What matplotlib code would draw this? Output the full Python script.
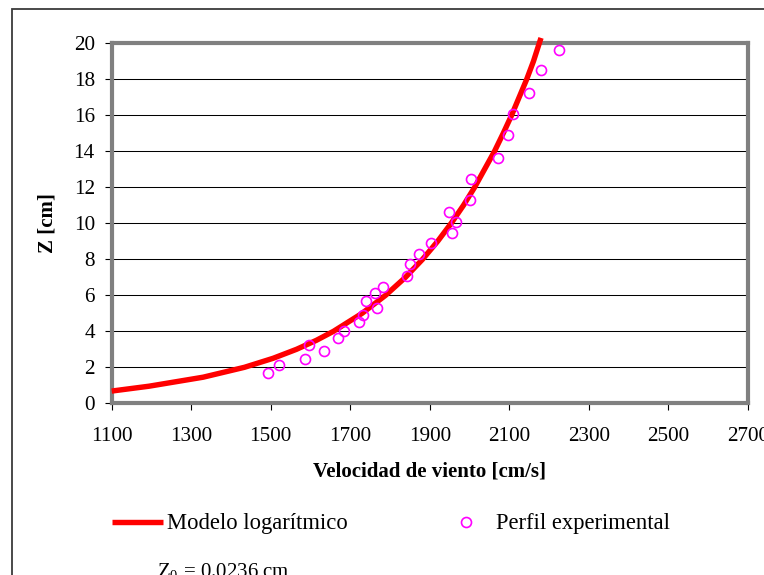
import matplotlib
matplotlib.use("Agg")
import matplotlib.pyplot as plt
from matplotlib.patches import Rectangle

# ---- data ----
exp_u = [1494, 1521, 1586, 1596, 1635, 1670, 1684, 1723, 1733, 1741, 1767, 1762,
         1782, 1842, 1851, 1873, 1903, 1956, 1966, 1948, 2001, 2005, 2071, 2097,
         2110, 2150, 2181, 2225]
exp_z = [1.70, 2.11, 2.48, 3.26, 2.89, 3.64, 4.03, 4.50, 4.92, 5.68, 5.29, 6.11,
         6.46, 7.06, 7.72, 8.29, 8.89, 9.48, 10.06, 10.63, 11.29, 12.46, 13.64, 14.90,
         16.07, 17.22, 18.50, 19.64]

model_u = [1100, 1194, 1330, 1434, 1506, 1565, 1615, 1658, 1730, 1789, 1839, 1882,
           1920, 1954, 1985, 2013, 2038, 2063, 2085, 2106, 2125, 2144, 2161, 2180]
model_z = [0.68, 0.95, 1.45, 2.0, 2.5, 3.0, 3.5, 4.0, 5.0, 6.0, 7.0, 8.0,
           9.0, 10.0, 11.0, 12.0, 13.0, 14.0, 15.0, 16.0, 17.0, 18.0, 19.0, 20.3]

x_ticks = [1100, 1300, 1500, 1700, 1900, 2100, 2300, 2500, 2700]
y_ticks = [0, 2, 4, 6, 8, 10, 12, 14, 16, 18, 20]

label_model = "Modelo logarítmico"
label_exp = "Perfil experimental"
xlabel = "Velocidad de viento [cm/s]"
ylabel = "Z [cm]"
z0_text = r"Z$_0$ = 0.0236 cm"

W, H = 764, 575
plt.rcParams['font.family'] = ['Liberation Serif', 'DejaVu Serif']
plt.rcParams['mathtext.fontset'] = 'custom'
plt.rcParams['mathtext.rm'] = 'Liberation Serif'

fig = plt.figure(figsize=(W / 100, H / 100), dpi=100)
fig.patch.set_facecolor('white')

def fx(px):
    return px / W

def fy(py):
    return 1 - py / H

# chart-area border (extends beyond the right/bottom of the image)
fig.patches.append(Rectangle((fx(12), fy(900)), 2.0, fy(9) - fy(900),
                             transform=fig.transFigure, fill=False,
                             edgecolor='#3a3a3a', linewidth=1.3))

left, right, top, bottom = 111.7, 747.7, 43.3, 403.3
ax = fig.add_axes([fx(left), fy(bottom), fx(right) - fx(left), fy(top) - fy(bottom)])

ax.plot(model_u, model_z, color='#ff0000', linewidth=3.9, solid_capstyle='butt',
        label=label_model, zorder=3, clip_on=False)
ax.plot(exp_u, exp_z, linestyle='none', marker='o', markersize=7.2,
        markerfacecolor='none', markeredgecolor='#ff00ff', markeredgewidth=1.2,
        label=label_exp, zorder=4, clip_on=False)

ax.set_xlim(1100, 2700)
ax.set_ylim(0, 20)
ax.set_xticks(x_ticks)
ax.set_yticks(y_ticks)
ax.set_xticklabels([str(v) for v in x_ticks])
ax.set_yticklabels([str(v) for v in y_ticks])
ax.tick_params(axis='both', direction='out', length=5.2, width=0.8, color='black',
               labelsize=15.2)
ax.tick_params(axis='x', pad=12)
ax.tick_params(axis='y', pad=7)

for v in y_ticks[1:-1]:
    ax.axhline(v, color='black', linewidth=0.75, zorder=1)

for s in ax.spines.values():
    s.set_color('#808080')
    s.set_linewidth(3.0)

ax.set_xlabel(xlabel, fontsize=15, fontweight='bold')
ax.set_ylabel(ylabel, fontsize=15, fontweight='bold')
ax.xaxis.set_label_coords(0.5, -0.163)
ax.yaxis.set_label_coords(-0.086, 0.5)

handles, labels = ax.get_legend_handles_labels()
fig.legend(handles, labels, ncol=2, frameon=False, loc='center left',
           bbox_to_anchor=(fx(112), fy(524)), bbox_transform=fig.transFigure,
           fontsize=16.3, handlelength=2.26, handletextpad=0.18, columnspacing=4.1,
           borderpad=0, borderaxespad=0, numpoints=1)

fig.text(fx(157), fy(577), z0_text, fontsize=15, ha='left', va='baseline')

fig.savefig('out.png', dpi=100, facecolor='white')
